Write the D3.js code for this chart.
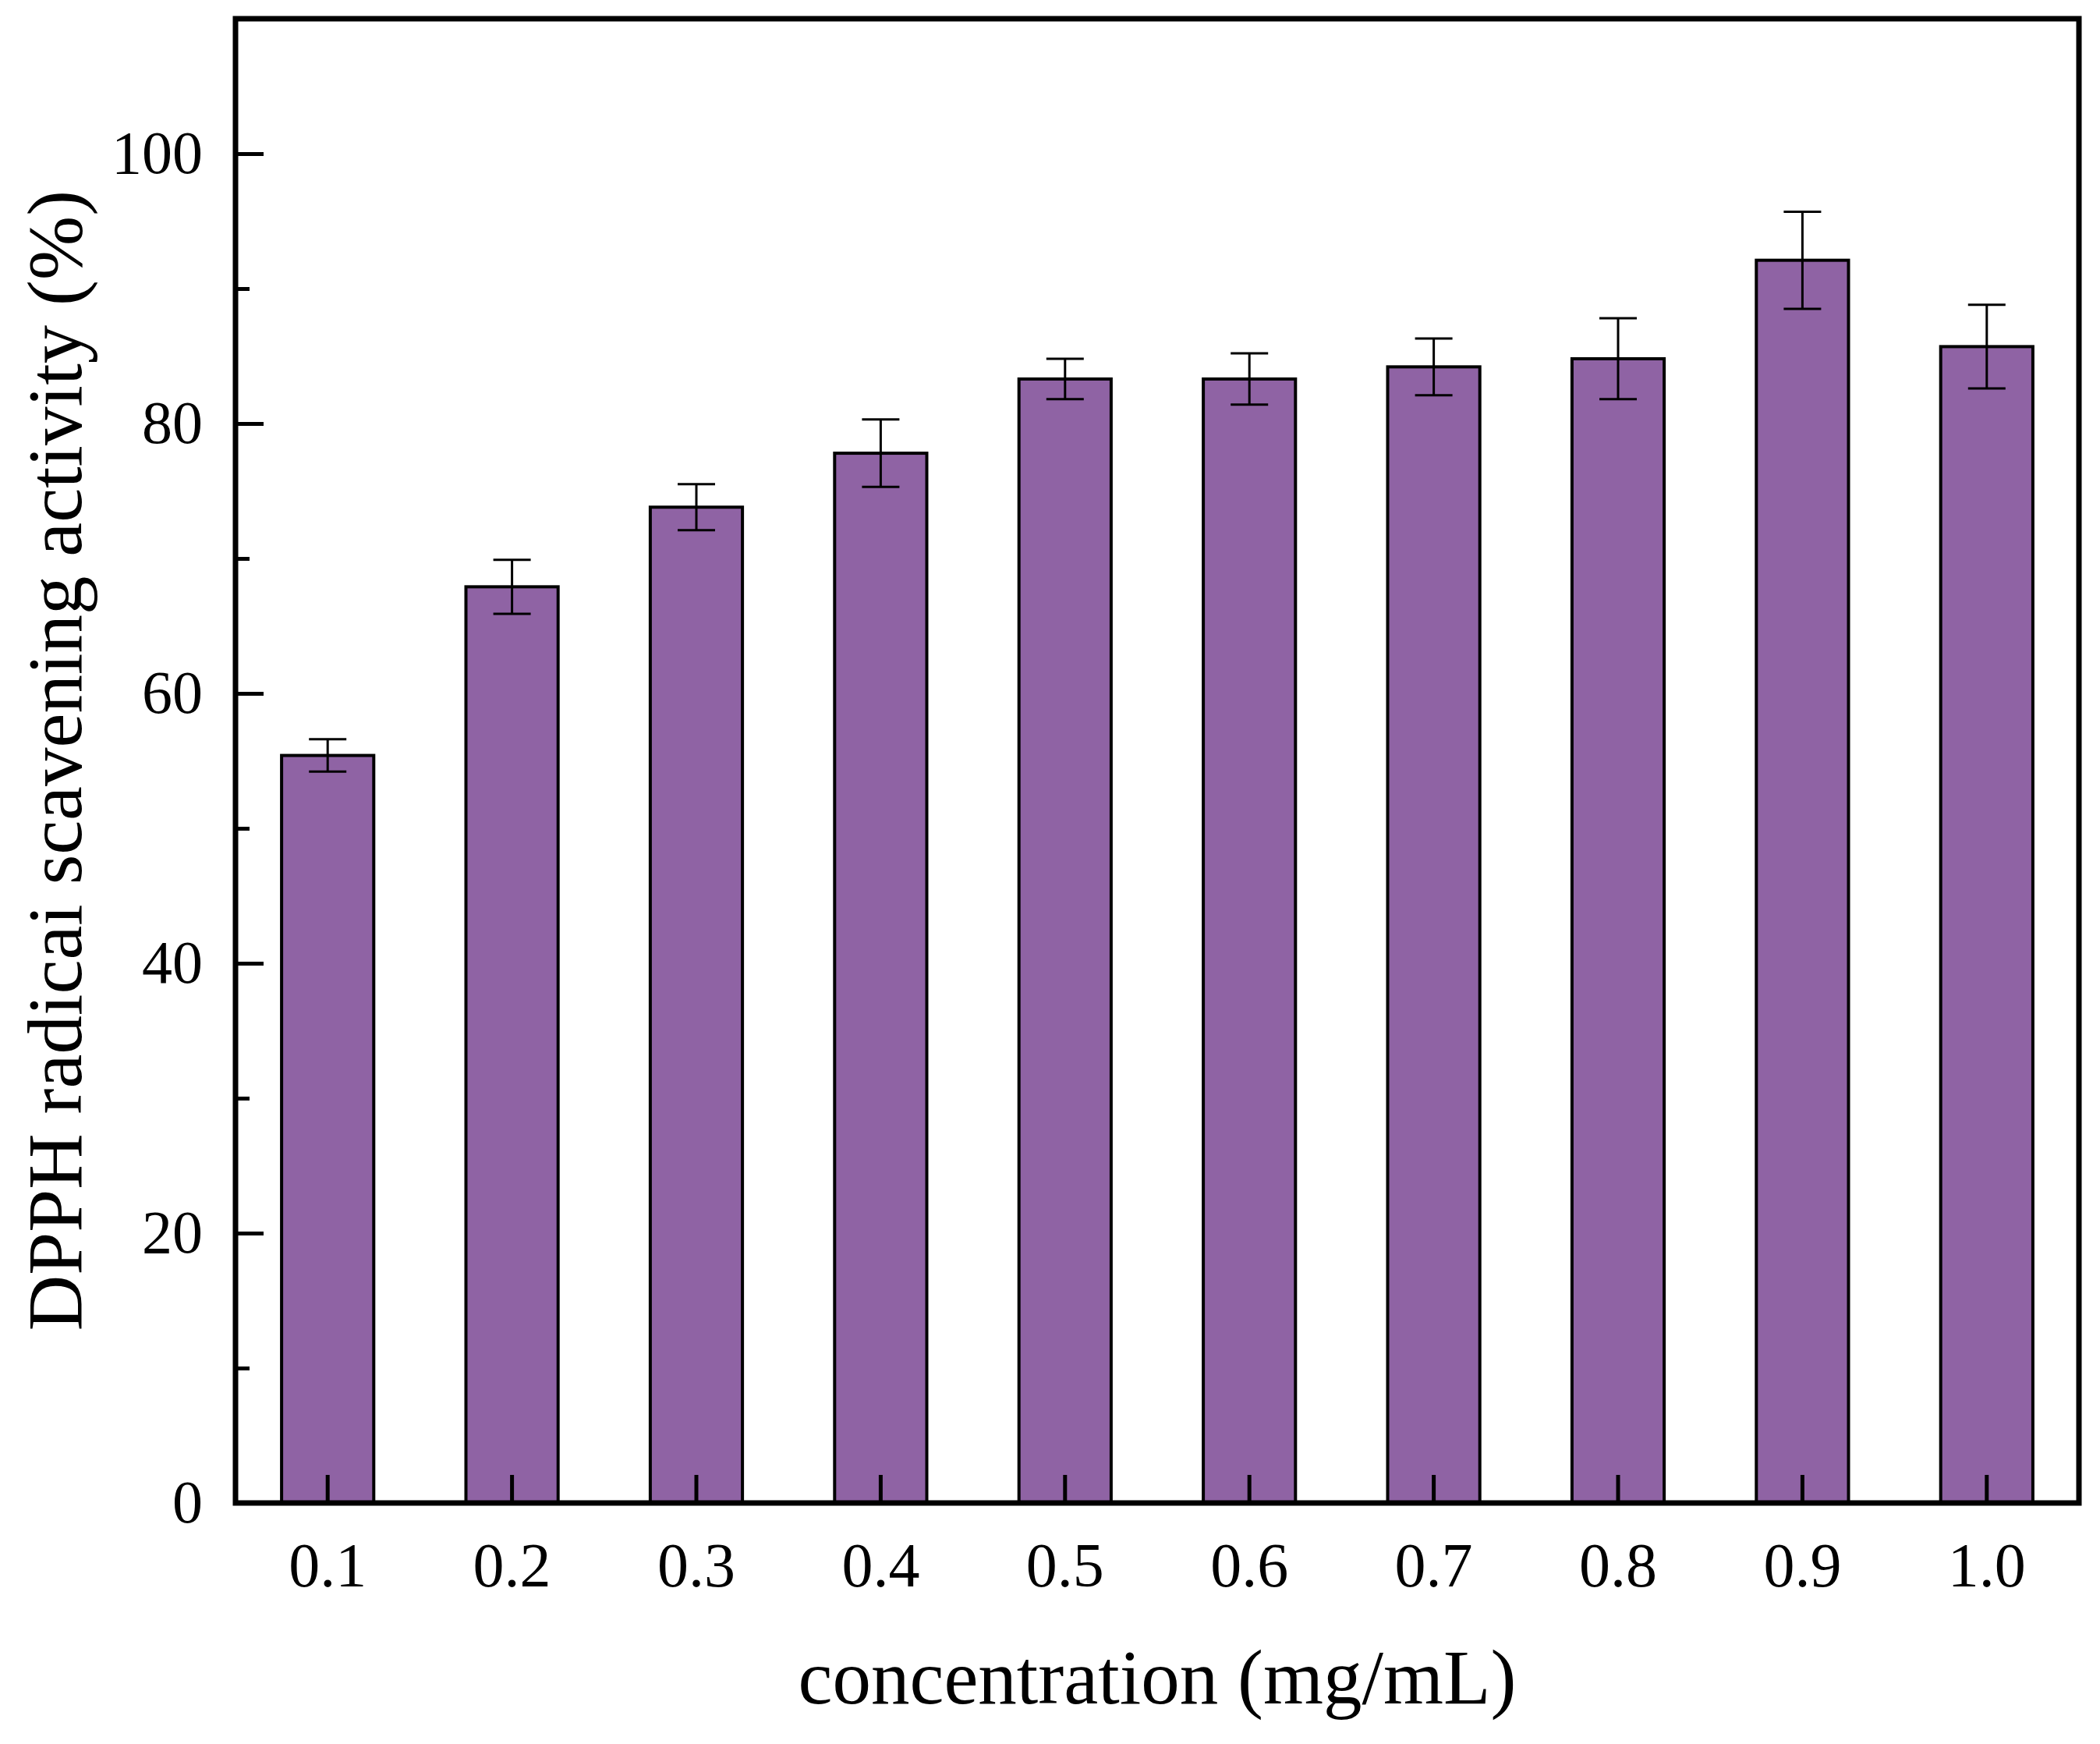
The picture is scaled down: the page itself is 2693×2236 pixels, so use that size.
<!DOCTYPE html>
<html>
<head>
<meta charset="utf-8">
<script src="https://cdn.jsdelivr.net/npm/d3@7"></script>
<style>
  body { margin: 0; background: #fff; }
  svg text { font-family: "Liberation Serif", "Times New Roman", serif; fill: #000; }
</style>
</head>
<body>
<div class="container"></div>
<script>
const concentrations = ['0.1', '0.2', '0.3', '0.4', '0.5', '0.6', '0.7', '0.8', '0.9', '1.0'];
const activity = [55.4, 67.9, 73.8, 77.8, 83.3, 83.3, 84.2, 84.8, 92.1, 85.7];
const errors = [1.2, 2.0, 1.7, 2.5, 1.5, 1.9, 2.1, 3.0, 3.6, 3.1];
const yMajorTicks = [0, 20, 40, 60, 80, 100];
const yMinorTicks = [10, 30, 50, 70, 90];

const WIDTH = 2693;
const HEIGHT = 2236;
const LEFT = 302, RIGHT = 2666, TOP = 24, BOTTOM = 1927;

var translate = function (x, y) {
    return "translate(" + x + "," + y + ")";
};

var svg = d3.select('.container').append('svg')
    .attr('width', WIDTH)
    .attr('height', HEIGHT);

var xScale = d3.scaleBand()
    .domain(concentrations)
    .range([LEFT, RIGHT])
    .paddingInner(0.5)
    .paddingOuter(0.25);

var yScale = d3.scaleLinear()
    .domain([0, 110])
    .range([BOTTOM, TOP]);

// bars
svg.append('g').selectAll('rect')
    .data(activity)
    .enter()
    .append('rect')
    .attr('x', function (d, i) { return xScale(concentrations[i]); })
    .attr('y', function (d) { return yScale(d); })
    .attr('width', xScale.bandwidth())
    .attr('height', function (d) { return yScale(0) - yScale(d); })
    .attr('fill', '#8f63a4')
    .attr('stroke', '#000')
    .attr('stroke-width', 4);

// x ticks (inside, drawn over the bars)
var xAxis = svg.append('g')
    .attr('transform', translate(0, BOTTOM))
    .call(d3.axisBottom(xScale).tickSizeInner(-36).tickSizeOuter(0).tickPadding(50));
xAxis.select('.domain').remove();
xAxis.selectAll('.tick line').attr('stroke', '#000').attr('stroke-width', 5);
xAxis.selectAll('.tick text')
    .attr('font-size', 80)
    .attr('dy', '0.71em');

// error bars
var capW = 48;
var center = function (i) { return xScale(concentrations[i]) + xScale.bandwidth() / 2; };
var eb = svg.append('g').selectAll('g')
    .data(activity)
    .enter()
    .append('g')
    .attr('stroke', '#000')
    .attr('stroke-width', 3);
eb.append('line')
    .attr('x1', function (d, i) { return center(i); })
    .attr('x2', function (d, i) { return center(i); })
    .attr('y1', function (d, i) { return yScale(d - errors[i]); })
    .attr('y2', function (d, i) { return yScale(d + errors[i]); });
eb.append('line')
    .attr('x1', function (d, i) { return center(i) - capW / 2; })
    .attr('x2', function (d, i) { return center(i) + capW / 2; })
    .attr('y1', function (d, i) { return yScale(d + errors[i]); })
    .attr('y2', function (d, i) { return yScale(d + errors[i]); });
eb.append('line')
    .attr('x1', function (d, i) { return center(i) - capW / 2; })
    .attr('x2', function (d, i) { return center(i) + capW / 2; })
    .attr('y1', function (d, i) { return yScale(d - errors[i]); })
    .attr('y2', function (d, i) { return yScale(d - errors[i]); });

// y axis, major and minor ticks pointing inward
var yAxis = svg.append('g')
    .attr('transform', translate(LEFT, 0))
    .call(d3.axisLeft(yScale).tickValues(yMajorTicks).tickSizeInner(-36).tickSizeOuter(0).tickPadding(42));
yAxis.select('.domain').remove();
yAxis.selectAll('.tick line').attr('stroke', '#000').attr('stroke-width', 5);
yAxis.selectAll('.tick text').attr('font-size', 78);

var yMinor = svg.append('g')
    .attr('transform', translate(LEFT, 0))
    .call(d3.axisLeft(yScale).tickValues(yMinorTicks).tickSizeInner(-18).tickSizeOuter(0).tickFormat(''));
yMinor.select('.domain').remove();
yMinor.selectAll('.tick line').attr('stroke', '#000').attr('stroke-width', 5);

// frame
svg.append('rect')
    .attr('x', LEFT)
    .attr('y', TOP)
    .attr('width', RIGHT - LEFT)
    .attr('height', BOTTOM - TOP)
    .attr('fill', 'none')
    .attr('stroke', '#000')
    .attr('stroke-width', 7);

// axis titles
svg.append('text')
    .attr('x', (LEFT + RIGHT) / 2)
    .attr('y', 2184)
    .attr('text-anchor', 'middle')
    .attr('font-size', 99)
    .text('concentration (mg/mL)');

svg.append('text')
    .attr('transform', translate(104, 975) + ' rotate(-90)')
    .attr('text-anchor', 'middle')
    .attr('font-size', 99)
    .text('DPPH radicai scavening activity (%)');
</script>
</body>
</html>
